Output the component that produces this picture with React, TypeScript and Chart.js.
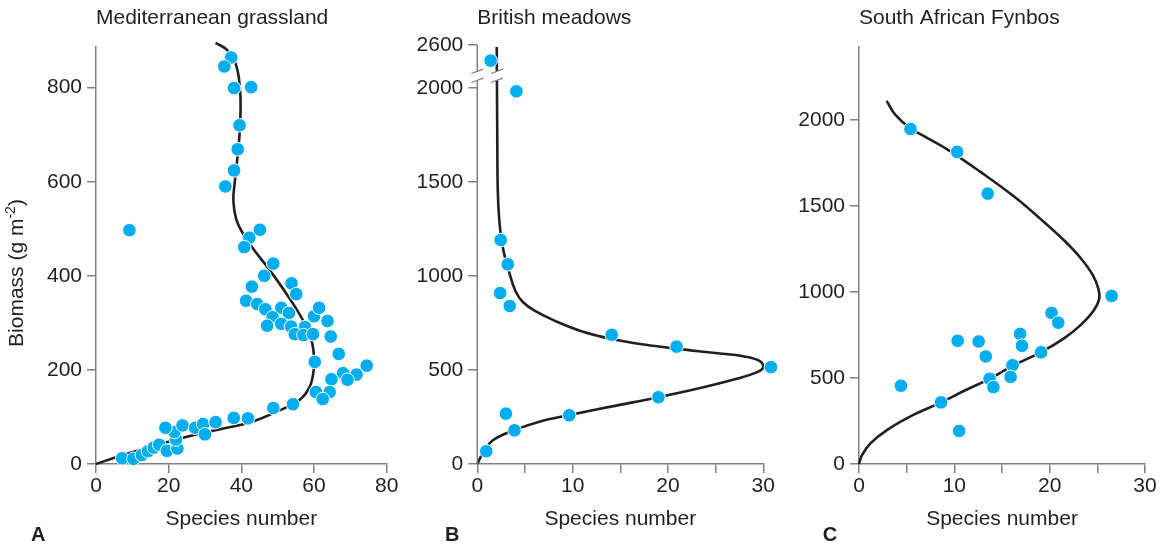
import React, { useEffect, useRef } from 'react';
import { Chart, registerables, LinearScale } from 'chart.js';

Chart.register(...registerables);

const FONT = '"Liberation Sans", Arial, Helvetica, sans-serif';
const INK = '#231f20';
const AXIS = '#7f7f7f';
const DOT = '#00aeef';

// ---------- Panel A: Mediterranean grassland ----------
const A_TITLE = 'Mediterranean grassland';
const A_SPECIES = [
  37.2, 35.3, 38.0, 42.7, 39.5, 39.0, 38.0, 35.6, 9.2,
  45.1, 42.2, 40.8, 48.8, 46.3, 53.8, 55.1, 42.9, 41.3, 44.4, 46.6, 51.0, 53.1, 48.6, 47.1, 51.0, 53.7, 57.5, 54.7, 57.1,
  59.7, 60.0, 61.4, 63.7, 64.6, 66.8, 60.2, 74.5, 68.0, 71.7, 69.2, 64.8, 60.5, 64.3, 62.4, 54.2, 48.8, 41.8, 37.9,
  7.2, 10.3, 12.6, 14.3, 15.9, 17.4, 19.5, 22.4, 22.0, 21.6, 19.1, 23.8, 27.3, 29.5, 30.0, 32.9,
];
const A_BIOMASS = [
  864, 845, 799, 801, 720, 669, 624, 590, 497,
  498, 481, 461, 426, 400, 384, 361, 377, 347, 340, 329, 332, 321, 312, 294, 298, 292, 291, 276, 274,
  276, 314, 332, 304, 271, 234, 217, 209, 193, 190, 179, 180, 153, 153, 138, 127, 119, 97, 98,
  12, 11, 19, 27, 35, 41, 28, 33, 52, 68, 77, 82, 77, 85, 63, 89,
];
const A_CURVE_SPECIES = [0, 5.7, 14.9, 24, 33.5, 43, 50.5, 56, 58.8, 59.9, 60, 59.3, 57, 52.4, 47.8, 43.2, 40.5, 38.6, 37.8, 38.2, 38.9, 39.5, 39.8, 39.6, 39.0, 37.8, 35.8, 32.9];
const A_CURVE_BIOMASS = [0, 15, 36, 56, 73, 90, 114, 136, 164, 199, 228, 263, 305, 362, 412, 458, 489, 520, 560, 600, 650, 700, 760, 800, 835, 862, 882, 895];
const A_X_TICKS = [0, 20, 40, 60, 80];
const A_Y_TICKS = [0, 200, 400, 600, 800];
const A_X_MAX = 80;
const A_Y_MAX = 887;

// ---------- Panel B: British meadows ----------
const B_TITLE = 'British meadows';
const B_SPECIES = [1.4, 4.1, 2.45, 3.2, 2.4, 3.4, 14.1, 20.9, 30.8, 19.0, 9.65, 3.0, 3.9, 0.94];
const B_BIOMASS = [2517, 1982, 1191, 1062, 909, 840, 687, 624, 515, 355, 259, 268, 179, 68];
const B_CURVE_SPECIES = [0, 0.6, 1.6, 3.9, 6.5, 9.65, 14, 19, 23.5, 27, 29.3, 30.0, 29.6, 28, 25, 21, 17.5, 14.1, 11, 8.2, 6.2, 4.8, 4.0, 3.4, 2.9, 2.55, 2.3, 2.15, 2.1, 2.06, 2.06, 2.05, 2.04];
const B_CURVE_BIOMASS = [0, 60, 125, 180, 225, 260, 305, 355, 405, 450, 487, 515, 548, 572, 590, 612, 635, 665, 705, 760, 810, 860, 920, 1010, 1100, 1190, 1300, 1450, 1700, 2040, null, 2460, 2590];
const B_X_TICKS = [0, 5, 10, 15, 20, 25, 30];
const B_Y_TICKS = [0, 500, 1000, 1500, 2000, 2600];
const B_X_MAX = 30;
const B_Y_MAX = 2600;
const B_BREAK_FROM = 2040;
const B_BREAK_TO = 2460;
const B_BREAK_GAP = 48;

// ---------- Panel C: South African Fynbos ----------
const C_TITLE = 'South African Fynbos';
const C_SPECIES = [5.4, 10.3, 13.5, 26.5, 20.2, 20.9, 16.9, 17.1, 10.35, 12.55, 13.3, 19.1, 16.1, 15.9, 13.7, 14.1, 4.4, 8.6, 10.5];
const C_BIOMASS = [1947, 1814, 1571, 977, 878, 821, 756, 687, 716, 712, 625, 649, 574, 506, 495, 447, 455, 358, 192];
const C_CURVE_SPECIES = [0, 0.3, 1.2, 3.0, 5.5, 8.6, 11.2, 13.7, 16.1, 19.1, 21.5, 23.3, 24.6, 25.2, 25.1, 24.5, 23.2, 21.5, 19.0, 16.2, 12.7, 9.5, 7.0, 5.4, 3.8, 2.9];
const C_CURVE_BIOMASS = [0, 50, 120, 200, 280, 358, 430, 495, 570, 650, 730, 810, 890, 960, 1020, 1100, 1200, 1300, 1426, 1557, 1699, 1820, 1900, 1950, 2030, 2110];
const C_X_TICKS = [0, 5, 10, 15, 20, 25, 30];
const C_Y_TICKS = [0, 500, 1000, 1500, 2000];
const C_X_MAX = 30;
const C_Y_MAX = 2425;

const X_TITLE = 'Species number';
const Y_TITLE_MAIN = 'Biomass (g m';
const Y_TITLE_SUP = '-2';
const Y_TITLE_END = ')';

// ---------- broken linear scale ----------
class BrokenLinearScale extends LinearScale {
  _c(v: number) {
    if (v <= B_BREAK_FROM) return v;
    if (v >= B_BREAK_TO) return v - (B_BREAK_TO - B_BREAK_FROM) + B_BREAK_GAP;
    return B_BREAK_FROM + ((v - B_BREAK_FROM) / (B_BREAK_TO - B_BREAK_FROM)) * B_BREAK_GAP;
  }
  _inv(c: number) {
    if (c <= B_BREAK_FROM) return c;
    if (c >= B_BREAK_FROM + B_BREAK_GAP) return c + (B_BREAK_TO - B_BREAK_FROM) - B_BREAK_GAP;
    return B_BREAK_FROM + ((c - B_BREAK_FROM) / B_BREAK_GAP) * (B_BREAK_TO - B_BREAK_FROM);
  }
  getPixelForValue(value: any) {
    if (value === null || value === undefined) return NaN;
    const v = +value;
    if (!isFinite(v)) return NaN;
    const s = this._c((this as any).min);
    const e = this._c((this as any).max);
    return (this as any).getPixelForDecimal((this._c(v) - s) / (e - s));
  }
  getValueForPixel(pixel: number) {
    const s = this._c((this as any).min);
    const e = this._c((this as any).max);
    return this._inv(s + (this as any).getDecimalForPixel(pixel) * (e - s));
  }
}
(BrokenLinearScale as any).id = 'brokenLinear';
(BrokenLinearScale as any).defaults = (LinearScale as any).defaults;
Chart.register(BrokenLinearScale as any);

Chart.defaults.font.family = FONT;
Chart.defaults.color = INK;

const pairs = (xs: number[], ys: (number | null)[]) => xs.map((x, i) => ({ x, y: ys[i] }));

function xScale(max: number, ticks: number[], labelEvery: number) {
  return {
    type: 'linear',
    min: 0,
    max,
    afterBuildTicks: (s: any) => { s.ticks = ticks.map((v) => ({ value: v })); },
    afterFit: (s: any) => { s.height = 68; },
    grid: { display: true, drawOnChartArea: false, drawTicks: true, tickLength: 9, color: AXIS, lineWidth: 1.5 },
    border: { display: true, color: AXIS, width: 1.5 },
    ticks: {
      color: INK, font: { size: 21 }, padding: 1, autoSkip: false, maxRotation: 0,
      callback: (v: any) => (Number(v) % labelEvery === 0 ? String(v) : ''),
    },
    title: { display: true, text: X_TITLE, color: INK, font: { size: 21 }, padding: { top: 0, bottom: 0 } },
  };
}

function yScale(type: string, max: number, ticks: number[], showBorder: boolean) {
  return {
    type,
    min: 0,
    max,
    afterBuildTicks: (s: any) => { s.ticks = ticks.map((v) => ({ value: v })); },
    afterFit: (s: any) => { s.width = 64; },
    grid: { display: true, drawOnChartArea: false, drawTicks: true, tickLength: 9, color: AXIS, lineWidth: 1.5 },
    border: { display: showBorder, color: AXIS, width: 1.5 },
    ticks: { color: INK, font: { size: 21 }, padding: 5, autoSkip: false, callback: (v: any) => String(v) },
  };
}

function datasets(sx: number[], sy: number[], cx: number[], cy: (number | null)[]) {
  return [
    {
      label: 'plots',
      data: pairs(sx, sy),
      showLine: false,
      pointRadius: 6.8,
      pointBackgroundColor: DOT,
      pointBorderColor: '#ffffff',
      pointBorderWidth: 1,
      clip: false,
      order: 0,
    },
    {
      label: 'fit',
      data: pairs(cx, cy),
      showLine: true,
      spanGaps: false,
      pointRadius: 0,
      borderColor: INK,
      borderWidth: 2.6,
      tension: 0.4,
      fill: false,
      clip: false,
      order: 1,
    },
  ];
}

function letterPlugin(letter: string, x: number) {
  return {
    id: 'letter' + letter,
    afterDraw(chart: any) {
      const ctx = chart.ctx;
      ctx.save();
      ctx.fillStyle = INK;
      ctx.font = `bold 20px ${FONT}`;
      ctx.textAlign = 'left';
      ctx.textBaseline = 'alphabetic';
      ctx.fillText(letter, x, 541);
      ctx.restore();
    },
  };
}

const yTitlePlugin = {
  id: 'yTitleA',
  afterDraw(chart: any) {
    const ctx = chart.ctx;
    const main = `21px ${FONT}`;
    const sup = `14px ${FONT}`;
    ctx.save();
    ctx.translate(17.5, 273);
    ctx.rotate(-Math.PI / 2);
    ctx.fillStyle = INK;
    ctx.textBaseline = 'middle';
    ctx.textAlign = 'left';
    ctx.font = main;
    const w1 = ctx.measureText(Y_TITLE_MAIN).width;
    const w3 = ctx.measureText(Y_TITLE_END).width;
    ctx.font = sup;
    const w2 = ctx.measureText(Y_TITLE_SUP).width;
    let x = -(w1 + w2 + w3) / 2;
    ctx.font = main;
    ctx.fillText(Y_TITLE_MAIN, x, 0);
    x += w1;
    ctx.font = sup;
    ctx.fillText(Y_TITLE_SUP, x, -6);
    x += w2;
    ctx.font = main;
    ctx.fillText(Y_TITLE_END, x, 0);
    ctx.restore();
  },
};

const breakPlugin = {
  id: 'axisBreak',
  afterDraw(chart: any) {
    const { ctx, chartArea } = chart;
    const y = chart.scales.y;
    const xs = chart.scales.x;
    const x0 = chartArea.left;
    const pTop = y.getPixelForValue(B_Y_MAX);
    const pBot = y.getPixelForValue(0);
    const pLow = y.getPixelForValue(B_BREAK_FROM);
    const pHigh = y.getPixelForValue(B_BREAK_TO);
    const gapIdx = B_CURVE_BIOMASS.indexOf(null);
    const xc = xs.getPixelForValue(B_CURVE_SPECIES[gapIdx]);
    ctx.save();
    ctx.strokeStyle = AXIS;
    ctx.lineWidth = 1.5;
    ctx.beginPath();
    ctx.moveTo(x0, pBot);
    ctx.lineTo(x0, pLow);
    ctx.moveTo(x0, pHigh);
    ctx.lineTo(x0, pTop);
    ctx.stroke();
    ctx.lineWidth = 1.2;
    ctx.beginPath();
    for (const p of [pLow, pHigh]) {
      for (const xx of [x0, xc]) {
        ctx.moveTo(xx - 6, p + 2.2);
        ctx.lineTo(xx + 6, p - 2.2);
      }
    }
    ctx.stroke();
    ctx.restore();
  },
};

function titleOpts(text: string, bottom: number) {
  return {
    display: true,
    text,
    align: 'start',
    fullSize: false,
    color: INK,
    font: { size: 21, weight: 'normal' },
    padding: { top: 6, bottom },
  };
}

function baseOptions(padding: any, title: any, scales: any) {
  return {
    responsive: false,
    maintainAspectRatio: false,
    animation: false,
    events: [],
    layout: { padding },
    plugins: { legend: { display: false }, tooltip: { enabled: false }, title },
    scales,
  };
}

const configA = () => ({
  type: 'scatter',
  data: { datasets: datasets(A_SPECIES, A_BIOMASS, A_CURVE_SPECIES, A_CURVE_BIOMASS) },
  options: baseOptions(
    { left: 32, right: 23.3, top: 0, bottom: 13 },
    titleOpts(A_TITLE, 15.5),
    { x: xScale(A_X_MAX, A_X_TICKS, 20), y: yScale('linear', A_Y_MAX, A_Y_TICKS, true) },
  ),
  plugins: [yTitlePlugin, letterPlugin('A', 31)],
});

const configB = () => ({
  type: 'scatter',
  data: { datasets: datasets(B_SPECIES, B_BIOMASS, B_CURVE_SPECIES, B_CURVE_BIOMASS) },
  options: baseOptions(
    { left: 3.3, right: 31.7, top: 0, bottom: 13 },
    titleOpts(B_TITLE, 13.8),
    { x: xScale(B_X_MAX, B_X_TICKS, 10), y: yScale('brokenLinear', B_Y_MAX, B_Y_TICKS, false) },
  ),
  plugins: [breakPlugin, letterPlugin('B', 35)],
});

const configC = () => ({
  type: 'scatter',
  data: { datasets: datasets(C_SPECIES, C_BIOMASS, C_CURVE_SPECIES, C_CURVE_BIOMASS) },
  options: baseOptions(
    { left: 0, right: 17, top: 0, bottom: 13 },
    titleOpts(C_TITLE, 15.5),
    { x: xScale(C_X_MAX, C_X_TICKS, 10), y: yScale('linear', C_Y_MAX, C_Y_TICKS, true) },
  ),
  plugins: [letterPlugin('C', 27.7)],
});

function Panel({ left, width, build }: { left: number; width: number; build: () => any }) {
  const ref = useRef<HTMLCanvasElement>(null);
  useEffect(() => {
    const chart = new Chart(ref.current as HTMLCanvasElement, build());
    return () => chart.destroy();
  }, []);
  return (
    <canvas
      ref={ref}
      width={width}
      height={545}
      style={{ position: 'absolute', left, top: 0, width, height: 545, display: 'block' }}
    />
  );
}

export default function App() {
  return (
    <div style={{ position: 'absolute', left: 0, top: 0, width: 1162, height: 545, background: '#ffffff', overflow: 'hidden' }}>
      <Panel left={0} width={410} build={configA} />
      <Panel left={410} width={385} build={configB} />
      <Panel left={795} width={367} build={configC} />
    </div>
  );
}
